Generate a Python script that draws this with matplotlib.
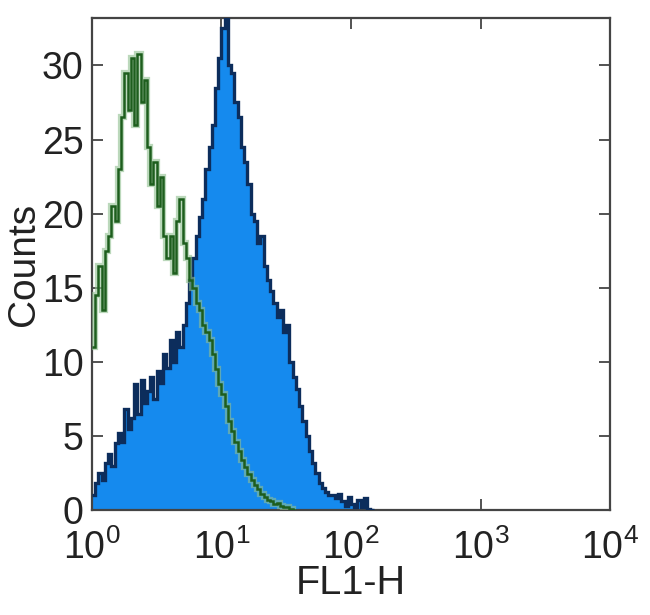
import matplotlib
matplotlib.use('Agg')
import matplotlib.pyplot as plt
import numpy as np

# channel counts, one value per 0.025-decade bin starting at 10^0
stained = [1.0, 1.8, 2.5, 2.0, 3.2, 3.8, 3.0, 4.5, 5.2, 4.6,
           6.8, 5.5, 6.2, 8.5, 6.5, 8.8, 7.2, 8.0, 9.0, 7.5,
           9.4, 8.6, 10.5, 9.6, 11.5, 10.0, 12.0, 11.0, 12.5, 14.0,
           15.5, 17.0, 18.5, 19.8, 21.0, 23.0, 24.5, 26.0, 28.5, 30.5,
           32.5, 33.5, 30.0, 29.5, 27.5, 26.5, 24.5, 23.5, 22.0, 20.0,
           19.5, 18.0, 18.5, 16.5, 15.5, 14.8, 14.0, 13.0, 13.5, 12.0,
           12.5, 10.0, 9.0, 8.2, 7.0, 6.0, 5.0, 4.0, 3.2, 2.5,
           1.8, 1.5, 1.2, 1.0, 1.0, 0.8, 1.1, 0.6, 0.3, 0.9,
           0.4, 0.2, 0.7, 0.2, 0.8, 0.1, 0.0]
isotype = [11.0, 14.5, 16.5, 13.5, 17.5, 18.5, 20.5, 19.5, 23.0, 26.5,
           29.5, 27.0, 30.5, 26.0, 30.8, 27.5, 29.0, 24.5, 22.0, 23.5,
           20.5, 22.5, 18.5, 17.0, 18.5, 16.0, 19.5, 21.0, 18.0, 17.0,
           15.5, 15.0, 14.0, 13.5, 12.5, 12.0, 11.5, 10.5, 9.5, 8.5,
           7.8, 7.0, 6.0, 5.3, 4.6, 4.0, 3.4, 2.9, 2.4, 2.0,
           1.7, 1.4, 1.1, 0.9, 0.7, 0.6, 0.4, 0.5, 0.3, 0.2,
           0.2, 0.1, 0.0]
bin_w = 0.025
xticks = [1, 10, 100, 1000, 10000]
yticks = [0, 5, 10, 15, 20, 25, 30]

plt.rcParams['font.family'] = ['Liberation Sans', 'DejaVu Sans']
plt.rcParams['mathtext.fontset'] = 'custom'
plt.rcParams['mathtext.rm'] = 'Liberation Sans'

fig = plt.figure(figsize=(6.5, 6.15), dpi=100)
ax = fig.add_axes([0.1415, 0.1707, 0.797, 0.8])

e_st = 10 ** (np.arange(len(stained) + 1) * bin_w)
e_iso = 10 ** (np.arange(len(isotype) + 1) * bin_w)

ax.stairs(stained, e_st, fill=True, color='#158aee', zorder=2)
ax.stairs(stained, e_st, baseline=None, color='#0c2d5c', linewidth=2.4, zorder=3)
ax.stairs(isotype, e_iso, baseline=None, color='#8fbf8f', linewidth=4.5, alpha=0.6, zorder=4)
ax.stairs(isotype, e_iso, baseline=None, color='#1d5e1d', linewidth=1.8, zorder=5)

ax.set_xscale('log')
ax.set_xlim(1, 10000)
ax.set_ylim(0, 33.2)
ax.set_xticks(xticks)
ax.set_yticks(yticks)
ax.xaxis.set_minor_locator(matplotlib.ticker.NullLocator())
ax.tick_params(direction='in', length=8, width=1.3, color='#444444',
               top=True, right=True, labelsize=27, labelcolor='#222222')
ax.tick_params(axis='x', pad=14)
ax.tick_params(axis='y', pad=6)
for s in ax.spines.values():
    s.set_color('#444444')
    s.set_linewidth(1.6)

ax.set_xlabel('FL1-H', fontsize=28.5, color='#222222', labelpad=-2)
ax.set_ylabel('Counts', fontsize=28, color='#222222', labelpad=0)

fig.savefig('out.png', dpi=100)
